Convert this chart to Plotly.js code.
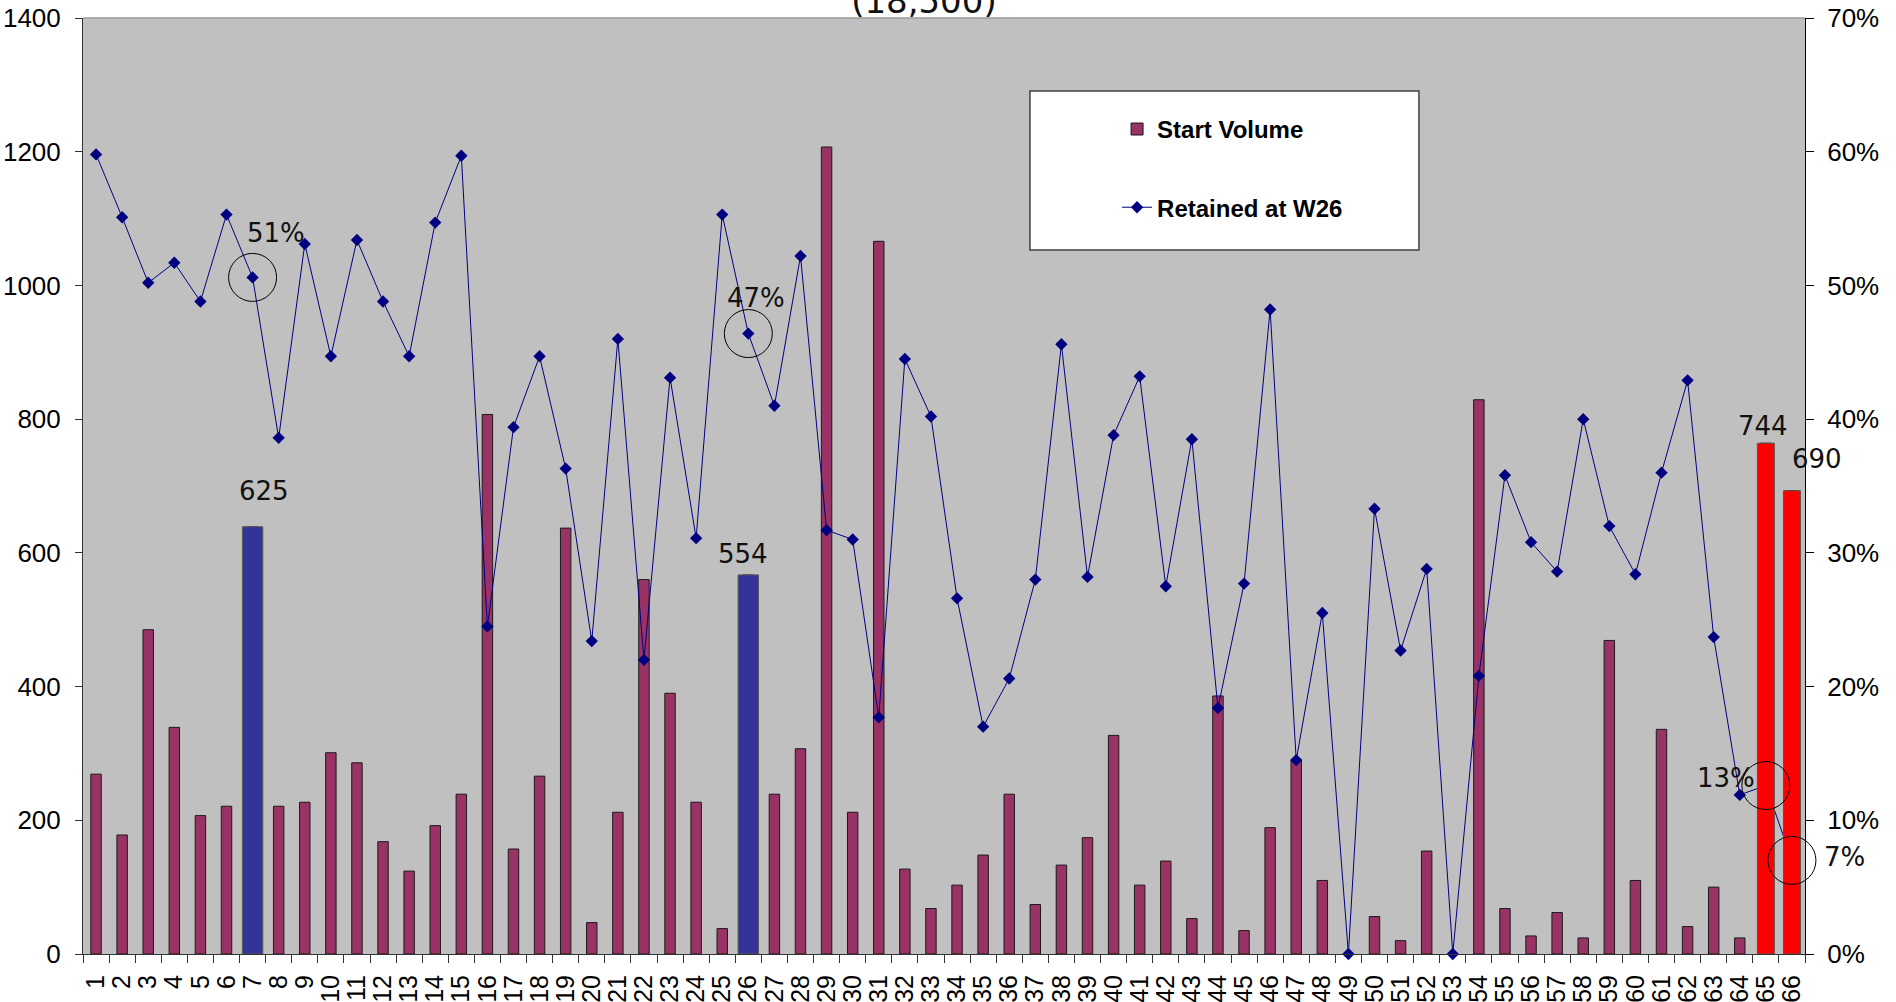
<!DOCTYPE html>
<html>
<head>
<meta charset="utf-8">
<script src="https://cdn.plot.ly/plotly-3.0.1.min.js"></script>
<style>
  html, body { margin: 0; padding: 0; background: #ffffff; }
  #chart { width: 1896px; height: 1002px; }
</style>
</head>
<body>
<div id="chart"></div>
<script>
// ---------- data ----------
const categories = ['1','2','3','4','5','6','7','8','9','10','11','12','13','14','15','16','17','18','19','20',
  '21','22','23','24','25','26','27','28','29','30','31','32','33','34','35','36','37','38','39','40',
  '41','42','43','44','45','46','47','48','49','50','51','52','53','54','55','56','57','58','59','60',
  '61','62','63','64','65','66'];

const startVolume = [269, 178, 485, 339, 207, 221, 639, 221, 227, 301,
  286, 168, 124, 192, 239, 807, 157, 266, 637, 47,
  212, 560, 390, 227, 38, 567, 239, 307, 1207, 212,
  1066, 127, 68, 103, 148, 239, 74, 133, 174, 327,
  103, 139, 53, 386, 35, 189, 290, 110, 0, 56,
  20, 154, 0, 829, 68, 27, 62, 24, 469, 110,
  336, 41, 100, 24, 764, 693];

const retainedW26 = [59.8, 55.1, 50.2, 51.7, 48.8, 55.3, 50.6, 38.6, 53.1, 44.7,
  53.4, 48.8, 44.7, 54.7, 59.7, 24.5, 39.4, 44.7, 36.3, 23.4,
  46.0, 22.0, 43.1, 31.1, 55.3, 46.4, 41.0, 52.2, 31.7, 31.0,
  17.7, 44.5, 40.2, 26.6, 17.0, 20.6, 28.0, 45.6, 28.2, 38.8,
  43.2, 27.5, 38.5, 18.4, 27.7, 48.2, 14.5, 25.5, 0, 33.3,
  22.7, 28.8, 0, 20.8, 35.8, 30.8, 28.6, 40.0, 32.0, 28.4,
  36.0, 42.9, 23.7, 11.9, 12.6, 7.0];

const blueCats = ['7', '26'];
const redCats = ['65', '66'];
const volumeLabelCats = ['7', '26', '65', '66'];
const volumeLabelText = ['625', '554', '744', '690'];
const circledCats = ['7', '26', '65', '66'];
const circledText = ['51%', '47%', '13%', '7%'];
const titleText = '(18,500)';
const seriesNames = ['Start Volume', 'Retained at W26'];

// ---------- helpers ----------
const idxOf = cat => categories.indexOf(cat);          // category position on the axis
const valueOf = (arr, cat) => arr[idxOf(cat)];

const COL_BAR = '#993366';
const COL_BLUE = '#333399';
const COL_RED = '#FF0000';
const COL_LINE = '#000080';
const TICK_FONT = { family: 'Liberation Sans, Arial, sans-serif', size: 26, color: '#000' };
const XTICK_FONT = { family: 'Liberation Sans, Arial, sans-serif', size: 25, color: '#000' };
const LABEL_FONT = { family: 'DejaVu Sans, sans-serif', size: 26, color: '#111' };

const highlightCats = blueCats.concat(redCats);

const traces = [
  {
    type: 'bar', name: seriesNames[0], legendgroup: 'a',
    x: categories, y: startVolume,
    width: 0.4,
    marker: { color: COL_BAR, line: { color: '#1a1a1a', width: 1 } },
    xaxis: 'x', yaxis: 'y', hoverinfo: 'x+y'
  },
  {
    type: 'scatter', mode: 'lines+markers', name: seriesNames[1], legendgroup: 'b',
    x: categories, y: retainedW26,
    line: { color: COL_LINE, width: 1 },
    marker: { symbol: 'diamond', size: 9.5, color: COL_LINE },
    cliponaxis: false,
    xaxis: 'x', yaxis: 'y2'
  },
  {
    type: 'bar', showlegend: false,
    x: highlightCats, y: highlightCats.map(c => valueOf(startVolume, c)),
    width: highlightCats.map(c => blueCats.includes(c) ? 0.78 : 0.65),
    marker: {
      color: highlightCats.map(c => blueCats.includes(c) ? COL_BLUE : COL_RED),
      line: { color: '#555555', width: 1 }
    },
    xaxis: 'x', yaxis: 'y3'
  },
  {
    type: 'scatter', mode: 'markers', showlegend: false,
    x: circledCats, y: circledCats.map(c => valueOf(retainedW26, c)),
    marker: { symbol: 'circle-open', size: 48, color: '#000', line: { color: '#000', width: 1 } },
    cliponaxis: false, hoverinfo: 'skip',
    xaxis: 'x', yaxis: 'y4'
  }
];

// label offsets in px (style only)
const volShift = [[11, 36], [-5, 21], [-3, 17], [25, 32]];
const pctShift = [[23, 44], [8, 36], [-40, 8], [53, 3]];

const annotations = [];
volumeLabelCats.forEach((c, i) => {
  annotations.push({
    xref: 'x', yref: 'y', x: idxOf(c), y: valueOf(startVolume, c),
    text: volumeLabelText[i], showarrow: false,
    xshift: volShift[i][0], yshift: volShift[i][1], font: LABEL_FONT
  });
});
circledCats.forEach((c, i) => {
  annotations.push({
    xref: 'x', yref: 'y2', x: idxOf(c), y: valueOf(retainedW26, c),
    text: circledText[i], showarrow: false,
    xshift: pctShift[i][0], yshift: pctShift[i][1], font: LABEL_FONT
  });
});

const layout = {
  width: 1896, height: 1002,
  margin: { l: 83, r: 91, t: 18, b: 48, pad: 0 },
  paper_bgcolor: '#ffffff',
  plot_bgcolor: '#C0C0C0',
  barmode: 'overlay',
  showlegend: true,
  title: {
    text: titleText,
    font: { family: 'DejaVu Sans, sans-serif', size: 34, color: '#111' },
    xref: 'container', x: 0.4873, xanchor: 'center',
    yref: 'container', y: 0.999, yanchor: 'middle'
  },
  xaxis: {
    type: 'category', range: [-0.5, 65.5], autorange: false,
    tickmode: 'linear', tick0: 0, dtick: 1,
    tickangle: -90, tickson: 'boundaries',
    ticks: 'outside', ticklen: 8, tickcolor: '#333', tickwidth: 1,
    ticklabelstandoff: 10,
    showline: true, linecolor: '#333', linewidth: 1,
    showgrid: false, zeroline: false, tickfont: XTICK_FONT,
    automargin: false, fixedrange: true
  },
  yaxis: {
    range: [0, 1400], autorange: false, tick0: 0, dtick: 200,
    ticks: 'outside', ticklen: 7, tickcolor: '#333',
    ticklabelstandoff: 9,
    showline: true, linecolor: '#333', linewidth: 1,
    showgrid: false, zeroline: false, tickfont: TICK_FONT,
    automargin: false, fixedrange: true
  },
  yaxis2: {
    overlaying: 'y', side: 'right', range: [0, 70], autorange: false, tick0: 0, dtick: 10, ticksuffix: '%',
    ticks: 'outside', ticklen: 8, tickcolor: '#000',
    ticklabelstandoff: 8,
    showline: true, linecolor: '#000', linewidth: 1,
    showgrid: false, zeroline: false, tickfont: TICK_FONT,
    automargin: false, fixedrange: true
  },
  yaxis3: { overlaying: 'y', range: [0, 1400], autorange: false, visible: false, fixedrange: true },
  yaxis4: { overlaying: 'y', range: [0, 70], autorange: false, visible: false, fixedrange: true },
  legend: {
    x: 0.6005, xanchor: 'left', y: 0.905, yanchor: 'top',
    bgcolor: 'rgba(0,0,0,0)', borderwidth: 0,
    traceorder: 'grouped', tracegroupgap: 44,
    font: { family: 'Liberation Sans, Arial, sans-serif', size: 24, color: '#000', weight: 'bold' }
  },
  shapes: [
    { type: 'rect', xref: 'paper', yref: 'paper', x0: 0.5499, x1: 0.7758, y0: 0.7521, y1: 0.922,
      fillcolor: '#ffffff', line: { color: '#404040', width: 1.5 }, layer: 'above' },
    { type: 'line', xref: 'paper', yref: 'paper', x0: 0, x1: 1, y0: 1, y1: 1,
      line: { color: '#9a9a9a', width: 1.5 }, layer: 'above' }
  ],
  annotations: annotations
};

Plotly.newPlot('chart', traces, layout, { displayModeBar: false, staticPlot: true });
</script>
</body>
</html>
